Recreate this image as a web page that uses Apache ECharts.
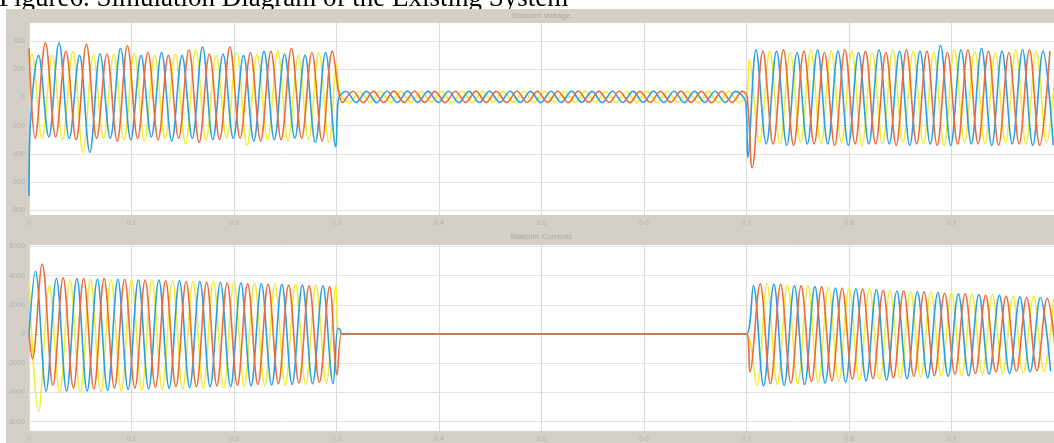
<!DOCTYPE html>
<html><head><meta charset="utf-8">
<script src="https://cdn.jsdelivr.net/npm/echarts@6.0.0/dist/echarts.min.js"></script>
<style>html,body{margin:0;padding:0;background:#fff;overflow:hidden}#c{width:1054px;height:443px}</style>
</head><body><div id="c"></div>
<script>
const caption = 'Figure6. Simulation Diagram of the Existing System';
const panelTitles = ['Statcom Voltage', 'Statcom Currents'];
const voltTicks = [400, 200, 0, -200, -400, -600, -800];
const currTicks = [6000, 4000, 2000, 0, -2000, -4000, -6000];

// Statcom voltage, phase 1 (yellow): [time s, value]
const vY = [[0,240],
[0.0027,310],[0.0127,-290],[0.0227,300],[0.0327,-300],[0.0427,330],[0.0527,-390],[0.0627,300],[0.0727,-290],[0.0827,310],[0.0927,-300],
[0.1027,320],[0.1127,-310],[0.1227,300],[0.1327,-290],[0.1427,310],[0.1527,-330],[0.1627,340],[0.1727,-300],[0.1827,300],[0.1927,-290],
[0.2027,320],[0.2127,-340],[0.2227,310],[0.2327,-300],[0.2427,330],[0.2527,-310],[0.2627,300],[0.2727,-300],[0.2827,320],[0.2927,-320],
[0.3003,240],
[0.3027,44],[0.3127,-36],[0.3227,45],[0.3327,-35],[0.3427,44],[0.3527,-36],[0.3627,46],[0.3727,-35],[0.3827,45],[0.3927,-34],
[0.4027,44],[0.4127,-36],[0.4227,45],[0.4327,-35],[0.4427,46],[0.4527,-35],[0.4627,44],[0.4727,-36],[0.4827,45],[0.4927,-35],
[0.5027,44],[0.5127,-34],[0.5227,45],[0.5327,-36],[0.5427,46],[0.5527,-35],[0.5627,44],[0.5727,-35],[0.5827,45],[0.5927,-36],
[0.6027,44],[0.6127,-35],[0.6227,45],[0.6327,-34],[0.6427,46],[0.6527,-35],[0.6627,44],[0.6727,-36],[0.6827,45],[0.6927,-35],
[0.7005,30],[0.7027,270],[0.7127,-320],[0.7227,330],[0.7327,-330],[0.7427,320],[0.7527,-320],[0.7627,340],[0.7727,-330],[0.7827,330],[0.7927,-320],
[0.8027,330],[0.8127,-340],[0.8227,320],[0.8327,-330],[0.8427,340],[0.8527,-320],[0.8627,330],[0.8727,-330],[0.8827,320],[0.8927,-340],
[0.9027,340],[0.9127,-320],[0.9227,330],[0.9327,-330],[0.9427,320],[0.9527,-320],[0.9627,340],[0.9727,-330],[0.9827,330],[0.9927,-320],[1.0027,330]];

// Statcom voltage, phase 2 (blue)
const vB = [[0,-700],[0.0012,-200],
[0.0093,300],[0.0193,-280],[0.0293,390],[0.0393,-290],[0.0493,300],[0.0593,-390],[0.0693,310],[0.0793,-290],[0.0893,350],[0.0993,-300],
[0.1093,300],[0.1193,-280],[0.1293,320],[0.1393,-310],[0.1493,300],[0.1593,-290],[0.1693,360],[0.1793,-300],[0.1893,310],[0.1993,-290],
[0.2093,300],[0.2193,-310],[0.2293,330],[0.2393,-300],[0.2493,310],[0.2593,-290],[0.2693,300],[0.2793,-320],[0.2893,320],[0.2993,-350],
[0.302,-10],
[0.3093,45],[0.3193,-35],[0.3293,44],[0.3393,-36],[0.3493,45],[0.3593,-35],[0.3693,46],[0.3793,-34],[0.3893,44],[0.3993,-35],
[0.4093,45],[0.4193,-36],[0.4293,44],[0.4393,-35],[0.4493,46],[0.4593,-35],[0.4693,45],[0.4793,-34],[0.4893,44],[0.4993,-36],
[0.5093,45],[0.5193,-35],[0.5293,46],[0.5393,-35],[0.5493,44],[0.5593,-36],[0.5693,45],[0.5793,-35],[0.5893,44],[0.5993,-34],
[0.6093,46],[0.6193,-35],[0.6293,45],[0.6393,-36],[0.6493,44],[0.6593,-35],[0.6693,45],[0.6793,-35],[0.6893,44],[0.6993,-35],
[0.7013,-425],[0.7093,340],[0.7193,-330],[0.7293,330],[0.7393,-340],[0.7493,320],[0.7593,-330],[0.7693,340],[0.7793,-330],[0.7893,330],[0.7993,-340],
[0.8093,320],[0.8193,-330],[0.8293,340],[0.8393,-330],[0.8493,330],[0.8593,-340],[0.8693,330],[0.8793,-330],[0.8893,370],[0.8993,-340],
[0.9093,340],[0.9193,-330],[0.9293,350],[0.9393,-340],[0.9493,330],[0.9593,-330],[0.9693,340],[0.9793,-340],[0.9893,330],[0.9993,-340]];

// Statcom voltage, phase 3 (orange)
const vO = [[0,350],
[0.006,-290],[0.016,390],[0.026,-280],[0.036,330],[0.046,-300],[0.056,380],[0.066,-290],[0.076,310],[0.086,-310],[0.096,370],
[0.106,-290],[0.116,320],[0.126,-300],[0.136,300],[0.146,-290],[0.156,340],[0.166,-320],[0.176,310],[0.186,-300],[0.196,360],
[0.206,-290],[0.216,320],[0.226,-310],[0.236,330],[0.246,-300],[0.256,350],[0.266,-290],[0.276,320],[0.286,-310],[0.296,330],
[0.306,-35],[0.316,45],[0.326,-36],[0.336,44],[0.346,-35],[0.356,46],[0.366,-35],[0.376,45],[0.386,-34],[0.396,44],
[0.406,-36],[0.416,45],[0.426,-35],[0.436,46],[0.446,-35],[0.456,44],[0.466,-36],[0.476,45],[0.486,-35],[0.496,44],
[0.506,-34],[0.516,45],[0.526,-36],[0.536,46],[0.546,-35],[0.556,44],[0.566,-35],[0.576,45],[0.586,-36],[0.596,44],
[0.606,-35],[0.616,45],[0.626,-34],[0.636,46],[0.646,-35],[0.656,44],[0.666,-36],[0.676,45],[0.686,-35],[0.696,44],
[0.7005,10],[0.7055,-500],[0.716,330],[0.726,-330],[0.736,340],[0.746,-340],[0.756,330],[0.766,-330],[0.776,320],[0.786,-340],[0.796,340],
[0.806,-330],[0.816,330],[0.826,-330],[0.836,320],[0.846,-340],[0.856,340],[0.866,-330],[0.876,330],[0.886,-340],[0.896,320],
[0.906,-330],[0.916,340],[0.926,-330],[0.936,330],[0.946,-340],[0.956,320],[0.966,-330],[0.976,340],[0.986,-340],[0.996,330]];

// Statcom currents, phase 1 (yellow)
const cY = [[0,3600],[0.0093,-5300],
[0.02,3300],[0.03,-4000],[0.04,3700],[0.05,-4000],[0.06,3750],[0.07,-3950],[0.08,3700],[0.09,-3900],[0.10,3700],[0.11,-3850],
[0.12,3700],[0.13,-3800],[0.14,3650],[0.15,-3750],[0.16,3600],[0.17,-3700],[0.18,3600],[0.19,-3650],[0.20,3550],[0.21,-3600],
[0.22,3500],[0.23,-3550],[0.24,3450],[0.25,-3500],[0.26,3400],[0.27,-3450],[0.28,3350],[0.29,-3350],[0.2995,3300],
[0.3025,0],[0.31,0],[0.69,0],[0.7,0],
[0.71,-3500],[0.72,3450],[0.73,-3450],[0.74,3350],[0.75,-3400],[0.76,3300],[0.77,-3300],[0.78,3200],[0.79,-3250],[0.80,3150],
[0.81,-3150],[0.82,3100],[0.83,-3100],[0.84,3000],[0.85,-3050],[0.86,2950],[0.87,-2950],[0.88,2900],[0.89,-2900],[0.90,2800],
[0.91,-2850],[0.92,2750],[0.93,-2750],[0.94,2700],[0.95,-2700],[0.96,2600],[0.97,-2650],[0.98,2550],[0.99,-2550],[1.0,2500]];

// Statcom currents, phase 2 (blue)
const cB = [[0,0],[0.0063,4300],
[0.0167,-3900],[0.0267,3800],[0.0367,-3900],[0.0467,3800],[0.0567,-3900],[0.0667,3750],[0.0767,-3850],[0.0867,3750],[0.0967,-3800],[0.1067,3700],
[0.1167,-3750],[0.1267,3700],[0.1367,-3700],[0.1467,3650],[0.1567,-3650],[0.1667,3600],[0.1767,-3600],[0.1867,3550],[0.1967,-3600],[0.2067,3500],
[0.2167,-3550],[0.2267,3450],[0.2367,-3500],[0.2467,3400],[0.2567,-3450],[0.2667,3350],[0.2767,-3400],[0.2867,3300],[0.2967,-3400],
[0.3013,400],[0.3035,300],[0.305,0],[0.31,0],[0.69,0],[0.7,0],
[0.7067,3300],[0.7167,-3550],[0.7267,3400],[0.7367,-3500],[0.7467,3300],[0.7567,-3450],[0.7667,3250],[0.7767,-3350],[0.7867,3150],[0.7967,-3300],
[0.8067,3100],[0.8167,-3200],[0.8267,3050],[0.8367,-3150],[0.8467,2950],[0.8567,-3050],[0.8667,2900],[0.8767,-3000],[0.8867,2850],[0.8967,-2900],
[0.9067,2750],[0.9167,-2850],[0.9267,2700],[0.9367,-2750],[0.9467,2650],[0.9567,-2700],[0.9667,2550],[0.9767,-2600],[0.9867,2500],[0.9967,-2550]];

// Statcom currents, phase 3 (orange)
const cO = [[0,0],[0.0033,-1700],[0.0129,4800],
[0.0233,-3500],[0.0333,3850],[0.0433,-3700],[0.0533,3800],[0.0633,-3750],[0.0733,3800],[0.0833,-3700],[0.0933,3750],[0.1033,-3700],[0.1133,3700],
[0.1233,-3650],[0.1333,3650],[0.1433,-3600],[0.1533,3600],[0.1633,-3600],[0.1733,3550],[0.1833,-3550],[0.1933,3500],[0.2033,-3500],[0.2133,3450],
[0.2233,-3450],[0.2333,3400],[0.2433,-3400],[0.2533,3350],[0.2633,-3350],[0.2733,3300],[0.2833,-3300],[0.2933,3250],
[0.3005,-2800],[0.305,0],[0.31,0],[0.69,0],[0.7,0],
[0.7033,-2600],[0.7133,3450],[0.7233,-3400],[0.7333,3400],[0.7433,-3350],[0.7533,3300],[0.7633,-3250],[0.7733,3250],[0.7833,-3200],[0.7933,3150],
[0.8033,-3100],[0.8133,3100],[0.8233,-3050],[0.8333,3000],[0.8433,-3000],[0.8533,2950],[0.8633,-2900],[0.8733,2900],[0.8833,-2850],[0.8933,2800],
[0.9033,-2750],[0.9133,2750],[0.9233,-2700],[0.9333,2650],[0.9433,-2600],[0.9533,2600],[0.9633,-2550],[0.9733,2500],[0.9833,-2500],[0.9933,2450],[1.0033,-2400]];

const COLORS = ['#f3ec2f', '#28a0e4', '#ee6b38'];
const LABEL_COLOR = '#b2b2b2';
const GRID_COLOR = '#e2e2e2';
const FONT = '"Liberation Sans", Arial, sans-serif';

const chart = echarts.init(document.getElementById('c'), null, {renderer: 'canvas'});

function xAxisCfg(gi) {
  return {
    gridIndex: gi, type: 'value', min: 0, max: 1, interval: 0.1,
    axisLine: {show: false}, axisTick: {show: false},
    axisLabel: {color: LABEL_COLOR, fontSize: 7, fontFamily: FONT, margin: 5, showMaxLabel: false,
      formatter: v => String(Math.round(v * 10) / 10)},
    splitLine: {show: true, lineStyle: {color: '#dadada', width: 1}}
  };
}
function yAxisCfg(gi, min, max, ticks) {
  return {
    gridIndex: gi, type: 'value', min: min, max: max,
    axisLine: {show: false}, axisTick: {show: false},
    axisLabel: {color: LABEL_COLOR, fontSize: 7, fontFamily: FONT, margin: 4, customValues: ticks,
      formatter: v => String(Math.round(v))},
    splitLine: {show: false}
  };
}
function gridLines(gi, ticks) {
  return {
    type: 'line', xAxisIndex: gi, yAxisIndex: gi, data: [[-1, 0]], silent: true, z: 1,
    showSymbol: false, lineStyle: {opacity: 0},
    markLine: {
      silent: true, z: 1, symbol: ['none', 'none'], label: {show: false}, animation: false,
      lineStyle: {color: GRID_COLOR, type: 'solid', width: 1},
      emphasis: {disabled: true},
      data: ticks.map(v => ({yAxis: v}))
    }
  };
}
function wave(gi, data, color) {
  return {
    type: 'line', xAxisIndex: gi, yAxisIndex: gi, data: data, smooth: 0.36,
    showSymbol: false, symbol: 'none', silent: true, z: 3,
    lineStyle: {color: color, width: 1.6}
  };
}

chart.setOption({
  animation: false,
  backgroundColor: '#ffffff',
  grid: [
    {left: 29, right: 0, top: 23, height: 192, show: true, backgroundColor: '#ffffff', borderWidth: 0},
    {left: 29, right: 0, top: 245, height: 190, show: true, backgroundColor: '#ffffff', borderWidth: 0}
  ],
  xAxis: [xAxisCfg(0), xAxisCfg(1)],
  yAxis: [yAxisCfg(0, -835, 530, voltTicks), yAxisCfg(1, -6640, 6100, currTicks)],
  graphic: [
    {type: 'text', x: -1, y: -1, z: -10, style: {text: caption, font: '27px "Liberation Serif", "Times New Roman", serif', fill: '#000000', textAlign: 'left', textVerticalAlign: 'middle'}},
    {type: 'rect', z: -5, shape: {x: 6, y: 9, width: 1048, height: 434}, style: {fill: '#d4d0c8'}},
    {type: 'text', x: 541, y: 16, z: 10, style: {text: panelTitles[0], font: '8px ' + FONT, fill: '#a6a6a6', textAlign: 'center', textVerticalAlign: 'middle'}},
    {type: 'text', x: 541, y: 237, z: 10, style: {text: panelTitles[1], font: '8px ' + FONT, fill: '#a6a6a6', textAlign: 'center', textVerticalAlign: 'middle'}}
  ],
  series: [
    gridLines(0, voltTicks), gridLines(1, currTicks),
    wave(0, vY, COLORS[0]), wave(0, vB, COLORS[1]), wave(0, vO, COLORS[2]),
    wave(1, cY, COLORS[0]), wave(1, cB, COLORS[1]), wave(1, cO, COLORS[2])
  ]
});
</script></body></html>
